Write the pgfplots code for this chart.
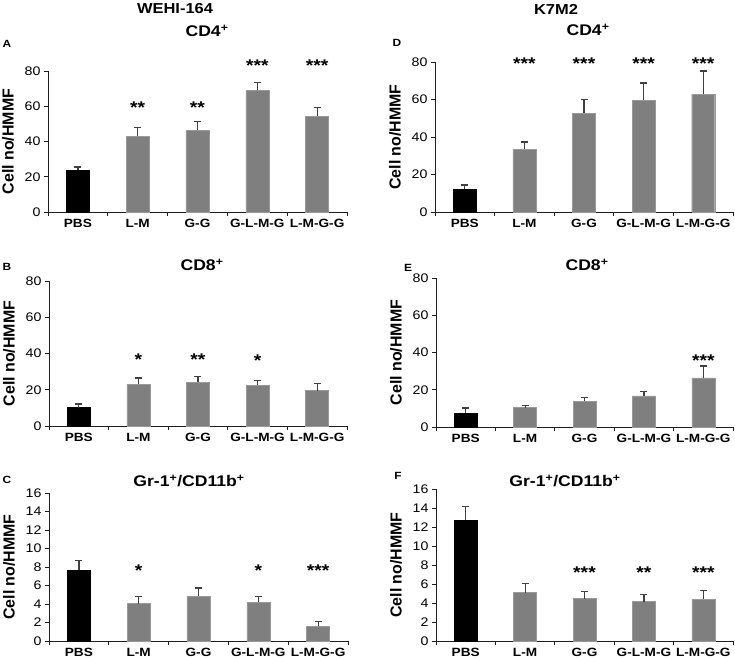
\documentclass[border=0pt]{standalone}
\usepackage{fontspec}
\setmainfont{Liberation Sans}[FakeStretch=1.14]
\newfontfamily\ylabfont{Liberation Sans}
\usepackage{pgfplots}
\usepackage{pgfplotstable}
\pgfplotsset{compat=1.18}
\definecolor{barg}{HTML}{7F7F7F}
\definecolor{bared}{HTML}{999999}
\definecolor{errc}{HTML}{404040}
\definecolor{axc}{HTML}{1E1E1E}

% WEHI-164
\pgfplotstableread{
x y e
0 23.6 1.9
1 43.1 4.9
2 46.3 5.1
3 69.0 4.5
4 54.4 5.1
}\tA
\pgfplotstableread{
x y e
0 10.1 2.0
1 23.0 3.5
2 24.1 3.3
3 22.4 2.6
4 19.5 3.8
}\tB
\pgfplotstableread{
x y e
0 7.68 1.04
1 4.04 0.75
2 4.83 0.90
3 4.18 0.61
4 1.59 0.50
}\tC
% K7M2
\pgfplotstableread{
x y e
0 12.3 2.1
1 33.5 3.8
2 52.6 7.6
3 59.7 9.1
4 62.9 12.3
}\tD
\pgfplotstableread{
x y e
0 7.5 2.7
1 10.4 1.3
2 13.7 2.1
3 16.7 2.4
4 26.4 6.3
}\tE
\pgfplotstableread{
x y e
0 12.75 1.40
1 5.10 0.92
2 4.47 0.78
3 4.15 0.74
4 4.40 0.95
}\tF

\newcommand{\fs}[1]{\fontsize{#1}{#1}\selectfont}

\pgfplotsset{
  panel/.style={
    scale only axis, anchor=south west, clip=false,
    xmin=-0.5, xmax=4.5, ymin=0,
    axis x line*=bottom, axis y line*=left,
    axis line style={draw=axc, line width=0.9bp},
    tick style={draw=axc, line width=0.9bp},
    tick align=outside, major tick length=4bp, minor tick length=4bp,
    xtick={0,...,4}, xticklabels={PBS,L-M,G-G,G-L-M-G,L-M-G-G},
    major x tick style={draw=none},
    minor xtick={-0.5,0.5,1.5,2.5,3.5,4.5},
    xticklabel style={font=\fs{12}\bfseries},
    yticklabel style={font=\fs{12.5}},
    /pgf/number format/assume math mode=true,
    ylabel={Cell no/HMMF},
    ylabel style={font=\ylabfont\fs{16}\bfseries, rotate=0,
      at={([xshift=-40bp]rel axis cs:0,0.5)}, anchor=center},
    ybar, bar width=23bp, bar shift=0pt,
  },
  big/.style={ymax=80, ytick={0,20,...,80}},
  small/.style={ymax=16, ytick={0,2,...,16}},
  errs/.style={
    error bars/y dir=plus, error bars/y explicit,
    error bars/error bar style={draw=errc, line width=1.2bp},
    error bars/error mark options={draw=errc, rotate=90, mark size=3.5bp, line width=1.2bp},
  },
  pbs/.style={fill=black, draw=black, errs, restrict x to domain=-0.1:0.1},
  trt/.style={fill=barg, draw=bared, errs, restrict x to domain=0.5:4.5},
}
\tikzset{
  star/.style={font=\fs{17}\bfseries, anchor=base, yshift=-9.8bp, inner sep=0pt},
  ttl/.style={font=\fs{15.5}\bfseries, inner sep=0pt},
  hdr/.style={font=\fs{14.5}\bfseries, inner sep=0pt},
  let/.style={font=\fs{10.5}\bfseries, inner sep=0pt},
}

\begin{document}
\begin{tikzpicture}
% column headers and panel titles
\node[hdr] at (175bp,650bp) {WEHI-164};
\node[hdr] at (556bp,650bp) {K7M2};
\node[ttl] at (207bp,628bp) {CD4\textsuperscript{+}};
\node[ttl] at (588bp,629bp) {CD4\textsuperscript{+}};
\node[ttl] at (202bp,394bp) {CD8\textsuperscript{+}};
\node[ttl] at (587bp,394bp) {CD8\textsuperscript{+}};
\node[ttl] at (189bp,178bp) {Gr-1\textsuperscript{+}/CD11b\textsuperscript{+}};
\node[ttl] at (565bp,178bp) {Gr-1\textsuperscript{+}/CD11b\textsuperscript{+}};
\node[let] at (7bp,615.5bp) {A};
\node[let] at (7bp,392bp) {B};
\node[let] at (7bp,179bp) {C};
\node[let] at (397bp,616bp) {D};
\node[let] at (408bp,391bp) {E};
\node[let] at (398bp,183bp) {F};

% A
\begin{axis}[panel, big, at={(48bp,447bp)}, width=299bp, height=141bp]
\addplot[pbs] table[x=x,y=y,y error=e]{\tA};
\addplot[trt] table[x=x,y=y,y error=e]{\tA};
\node[star] at (axis cs:1,61.3) {**};
\node[star] at (axis cs:2,61.3) {**};
\node[star] at (axis cs:3,85.3) {***};
\node[star] at (axis cs:4,85.3) {***};
\end{axis}

% B
\begin{axis}[panel, big, at={(49bp,233bp)}, width=298bp, height=145bp]
\addplot[pbs] table[x=x,y=y,y error=e]{\tB};
\addplot[trt] table[x=x,y=y,y error=e]{\tB};
\node[star] at (axis cs:1,38.6) {*};
\node[star] at (axis cs:2,38.6) {**};
\node[star] at (axis cs:3,38.3) {*};
\end{axis}

% C
\begin{axis}[panel, small, at={(49bp,18bp)}, width=299bp, height=148bp]
\addplot[pbs] table[x=x,y=y,y error=e]{\tC};
\addplot[trt] table[x=x,y=y,y error=e]{\tC};
\node[star] at (axis cs:1,8.0) {*};
\node[star] at (axis cs:3,8.0) {*};
\node[star] at (axis cs:4,8.0) {***};
\end{axis}

% D
\begin{axis}[panel, big, at={(435bp,447bp)}, width=298bp, height=150bp]
\addplot[pbs] table[x=x,y=y,y error=e]{\tD};
\addplot[trt] table[x=x,y=y,y error=e]{\tD};
\node[star] at (axis cs:1,81.4) {***};
\node[star] at (axis cs:2,81.4) {***};
\node[star] at (axis cs:3,81.4) {***};
\node[star] at (axis cs:4,81.4) {***};
\end{axis}

% E
\begin{axis}[panel, big, at={(436bp,232bp)}, width=297bp, height=149bp]
\addplot[pbs] table[x=x,y=y,y error=e]{\tE};
\addplot[trt] table[x=x,y=y,y error=e]{\tE};
\node[star] at (axis cs:4,37.7) {***};
\end{axis}

% F
\begin{axis}[panel, small, at={(436bp,18bp)}, width=297bp, height=152bp]
\addplot[pbs] table[x=x,y=y,y error=e]{\tF};
\addplot[trt] table[x=x,y=y,y error=e]{\tF};
\node[star] at (axis cs:2,7.65) {***};
\node[star] at (axis cs:3,7.65) {**};
\node[star] at (axis cs:4,7.65) {***};
\end{axis}

\pgfresetboundingbox
\path[use as bounding box] (0,0) rectangle (735bp,659bp);
\end{tikzpicture}
\end{document}
